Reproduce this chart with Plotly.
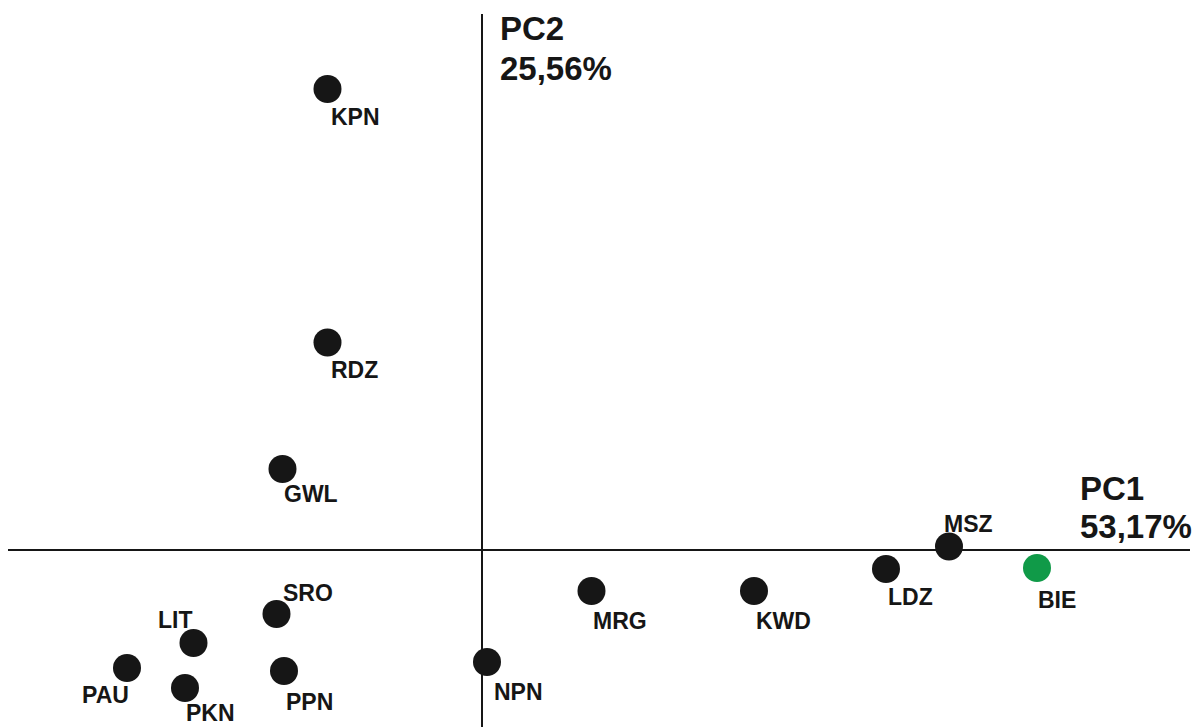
import plotly.graph_objects as go

# ---- data (PCA scores) ----
sites = ["KPN", "RDZ", "GWL", "SRO", "LIT", "PAU", "PKN", "PPN",
         "NPN", "MRG", "KWD", "LDZ", "MSZ", "BIE"]
pc1 = [-1.545, -1.545, -1.995, -2.055, -2.885, -3.55, -2.97, -1.98,
       0.05, 1.095, 2.72, 4.04, 4.67, 5.55]
pc2 = [4.61, 2.075, 0.81, -0.64, -0.93, -1.18, -1.38, -1.21,
       -1.12, -0.41, -0.41, -0.19, 0.035, -0.18]
highlight = ["BIE"]
pc1_label = ["PC1", "53,17%"]
pc2_label = ["PC2", "25,56%"]

# ---- label placement (pixel offsets from marker centre; style only) ----
label_pos = {
    "KPN": ("left", 1, 27.5), "RDZ": ("left", 1, 27.5), "GWL": ("left", -1, 25),
    "SRO": ("left", 4, -21.5), "LIT": ("right", 1, -23), "PAU": ("right", 4, 27),
    "PKN": ("left", -1, 25), "PPN": ("left", 0, 30.5), "NPN": ("left", 5, 29.5),
    "MRG": ("left", -1, 30), "KWD": ("left", 0, 30), "LDZ": ("left", 0, 27.5),
    "MSZ": ("left", -7, -23), "BIE": ("left", -1, 31.5),
}

DARK = "#161616"
GREEN = "#109a48"
FONT = "Liberation Sans, Arial, sans-serif"

W, H = 1202, 727
colors = [GREEN if s in highlight else DARK for s in sites]

fig = go.Figure()
fig.add_trace(go.Scatter(
    x=pc1, y=pc2, mode="markers", text=sites,
    marker=dict(size=28, color=colors, line=dict(width=0)),
    hoverinfo="text", showlegend=False,
))

annotations = []
for s, x, y in zip(sites, pc1, pc2):
    anchor, dx, dy = label_pos[s]
    annotations.append(dict(
        x=x, y=y, xref="x", yref="y", text=f"<b>{s}</b>", showarrow=False,
        xanchor=anchor, yanchor="middle", xshift=dx, yshift=-dy,
        font=dict(family=FONT, size=23, color=DARK),
    ))

# axis titles
def paper_ann(text, px, py, anchor="left"):
    return dict(x=px / W, y=1 - py / H, xref="paper", yref="paper",
                text=f"<b>{text}</b>", showarrow=False, xanchor=anchor,
                yanchor="middle", font=dict(family=FONT, size=33, color=DARK))

annotations += [
    paper_ann(pc2_label[0], 498, 28.5), paper_ann(pc2_label[1], 498, 68.5),
    paper_ann(pc1_label[0], 1078, 488.5), paper_ann(pc1_label[1], 1078, 526.5),
]

shapes = [
    dict(type="line", xref="x", yref="paper", x0=0, x1=0,
         y0=0, y1=1 - 14 / H, line=dict(color=DARK, width=2)),
    dict(type="line", xref="paper", yref="y", x0=8 / W, x1=1190 / W,
         y0=0, y1=0, line=dict(color=DARK, width=2)),
]

fig.update_layout(
    width=W, height=H,
    margin=dict(l=0, r=0, t=0, b=0),
    paper_bgcolor="white", plot_bgcolor="white",
    xaxis=dict(range=[-4.82, 7.20], visible=False, fixedrange=True),
    yaxis=dict(range=[-1.77, 5.50], visible=False, fixedrange=True),
    annotations=annotations, shapes=shapes,
)

fig.write_html("out.html", config={"displayModeBar": False})
